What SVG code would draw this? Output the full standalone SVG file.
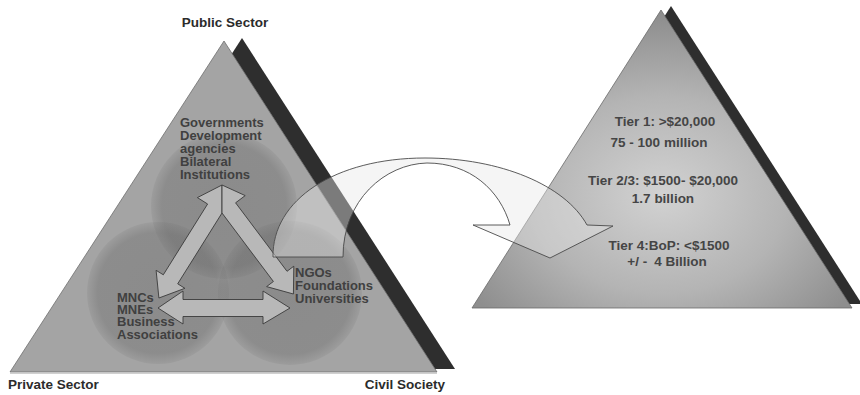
<svg xmlns="http://www.w3.org/2000/svg" width="860" height="395" viewBox="0 0 860 395">
  <defs>
    <radialGradient id="pyrGrad" cx="0.5" cy="0.62" r="0.6">
      <stop offset="0" stop-color="#d2d2d2"/>
      <stop offset="0.55" stop-color="#b4b4b4"/>
      <stop offset="1" stop-color="#8e8e8e"/>
    </radialGradient>
    <radialGradient id="circGrad" cx="0.5" cy="0.5" r="0.5">
      <stop offset="0" stop-color="#666666" stop-opacity="0.4"/>
      <stop offset="0.85" stop-color="#666666" stop-opacity="0.38"/>
      <stop offset="1" stop-color="#666666" stop-opacity="0.12"/>
    </radialGradient>
    <style>
      .label { font-family: "Liberation Sans", Arial, sans-serif; font-weight: bold; font-size: 13.5px; fill: #2b2b2b; }
      .inner { font-family: "Liberation Sans", Arial, sans-serif; font-weight: bold; font-size: 13px; fill: #404040; }
      .tier { font-family: "Liberation Sans", Arial, sans-serif; font-weight: bold; font-size: 13.5px; fill: #454545; text-anchor: middle; }
      .shadow { fill: #2e2e2e; }
      .block { fill: #b8b8b8; stroke: #3a3a3a; stroke-width: 0.9; stroke-linejoin: miter; }
    </style>
  </defs>

  <!-- Stakeholder triangle -->
  <g id="stakeholder-triangle">
    <polygon class="shadow" points="242,38 28,369 455,369"/>
    <polygon points="224,41 10,372 437,372" fill="#a4a4a4" stroke="#6e6e6e" stroke-width="0.8"/>
    <line x1="10" y1="373.5" x2="437" y2="373.5" stroke="#d0d0d0" stroke-width="1"/>
  </g>

  <!-- Sector circles -->
  <g id="circle-public"><circle cx="224" cy="206" r="73" fill="url(#circGrad)"/></g>
  <g id="circle-private"><circle cx="158" cy="293" r="71" fill="url(#circGrad)"/></g>
  <g id="circle-civil"><circle cx="290" cy="293" r="72" fill="url(#circGrad)"/></g>

  <!-- Income pyramid -->
  <g id="income-pyramid">
    <polygon class="shadow" points="671,6 482,304 862,304"/>
    <polygon points="661,10 472,308 852,308" fill="url(#pyrGrad)" stroke="#6a6a6a" stroke-width="0.8"/>
  </g>

  <!-- Corner labels -->
  <g id="label-public"><text class="label" x="225" y="27" text-anchor="middle">Public Sector</text></g>
  <g id="label-private"><text class="label" x="8" y="389">Private Sector</text></g>
  <g id="label-civil"><text class="label" x="445" y="389" text-anchor="end">Civil Society</text></g>

  <!-- Sector members -->
  <g id="node-public">
    <text class="inner" x="180" y="127">Governments</text>
    <text class="inner" x="180" y="140">Development</text>
    <text class="inner" x="180" y="153">agencies</text>
    <text class="inner" x="180" y="166">Bilateral</text>
    <text class="inner" x="180" y="179">Institutions</text>
  </g>
  <g id="node-civil">
    <text class="inner" x="295" y="277">NGOs</text>
    <text class="inner" x="295" y="290">Foundations</text>
    <text class="inner" x="295" y="303">Universities</text>
  </g>
  <g id="node-private">
    <text class="inner" x="117" y="302">MNCs</text>
    <text class="inner" x="117" y="314">MNEs</text>
    <text class="inner" x="117" y="326">Business</text>
    <text class="inner" x="117" y="339">Associations</text>
  </g>

  <!-- Tier texts -->
  <g id="node-tiers">
    <text class="tier" x="665" y="126">Tier 1: &gt;$20,000</text>
    <text class="tier" x="659" y="147">75 - 100 million</text>
    <text class="tier" x="663" y="185">Tier 2/3: $1500- $20,000</text>
    <text class="tier" x="663" y="203">1.7 billion</text>
    <text class="tier" x="669" y="250">Tier 4:BoP: &lt;$1500</text>
    <text class="tier" x="667" y="266">+/ -<tspan dx="7">4 Billion</tspan></text>
  </g>

  <!-- Connectors -->
  <g id="connectors">
    <!-- public <-> private -->
    <polygon class="block" points="222,185 197.4,197.6 207.6,204 163.3,274.8 156.1,270.3 158.9,298 184.9,288.3 177.7,283.8 222,213"/>
    <!-- public <-> civil -->
    <polygon class="block" points="222,185 245.2,195.6 235.6,202.8 287,271.3 293.8,266.2 293.4,294 266.6,286.6 273.4,281.5 222,213"/>
    <!-- private <-> civil -->
    <polygon class="block" points="158,308 183,291 183,299.5 263,299.5 263,291 290,308 263,324 263,316.5 183,316.5 183,324"/>
    <!-- curved arrow from stakeholders to pyramid -->
    <path d="M273,257 C272,200 335,158 425,158 C500,158 565,185 587,225 L613,226 L550,258 L473,225 L510,225 C500,190 470,163 427,163 C385,164 343,200 343,257 Z" fill="#e6e6e6" fill-opacity="0.42" stroke="#4a4a4a" stroke-width="0.9"/>
  </g>
</svg>
